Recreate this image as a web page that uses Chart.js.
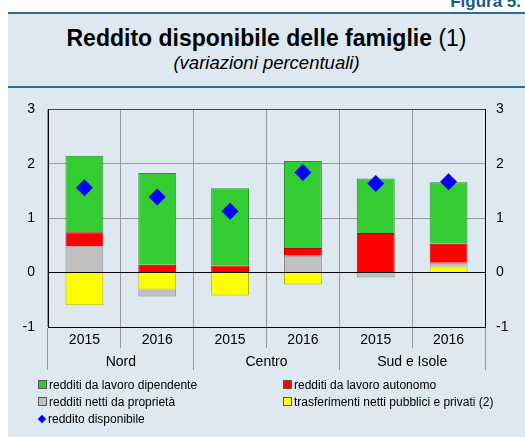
<!DOCTYPE html>
<html>
<head>
<meta charset="utf-8">
<script src="https://cdn.jsdelivr.net/npm/chart.js@4/dist/chart.umd.min.js"></script>
<style>
  body { margin: 0; width: 525px; height: 437px; background: #fff; position: relative; overflow: hidden;
         font-family: "Liberation Sans", Arial, sans-serif; }
  #fig { position: absolute; right: 4px; top: -8px; font-weight: bold; font-size: 17px; color: #1a5a8a; }
  #panel { position: absolute; left: 8px; top: 12px; width: 517px; height: 425px; background: #dde8f1;
           border-top: 2px solid #2d6e92; }
  #rule { position: absolute; left: 8px; top: 86px; width: 517px; height: 2px; background: #2d6e92; }
  #title { position: absolute; left: 8px; top: 25px; width: 517px; text-align: center; font-size: 23px; font-weight: bold; }
  #title span { font-weight: normal; }
  #sub { position: absolute; left: 8px; top: 52px; width: 517px; text-align: center; font-size: 18.5px; font-style: italic; }
  #wrap { position: absolute; left: 8px; top: 88px; width: 517px; height: 292px; }
  #legend { position: absolute; left: 38px; top: 378px; font-size: 12px; }
  .item { position: absolute; white-space: nowrap; line-height: 14px; }
  .sw { display: inline-block; width: 7px; height: 7px; border: 1px solid #555; margin-right: 2px; vertical-align: 0px; }
  .dia { display: inline-block; width: 6px; height: 6px; background: #0000ff; transform: rotate(45deg); margin: 0 3px 0 1px; vertical-align: 1px; }
</style>
</head>
<body>
<div id="fig">Figura 5.</div>
<div id="panel"></div>
<div id="rule"></div>
<div id="title">Reddito disponibile delle famiglie <span>(1)</span></div>
<div id="sub">(variazioni percentuali)</div>
<div id="wrap"><canvas id="c"></canvas></div>
<div id="legend"></div>
<script>
// === Data ===
const years = ['2015', '2016', '2015', '2016', '2015', '2016'];
const regions = ['Nord', 'Centro', 'Sud e Isole'];
const yTicks = [-1, 0, 1, 2, 3];

const dipendente = [1.41, 1.685, 1.42, 1.60, 1.00, 1.13];
const autonomo = [0.26, 0.145, 0.13, 0.14, 0.73, 0.35];
const proprieta = [0.48, -0.13, 0.0, 0.31, -0.09, 0.07];
const trasferimenti = [-0.60, -0.31, -0.42, -0.22, 0.0, 0.11];
const disponibile = [1.56, 1.39, 1.13, 1.84, 1.64, 1.67];

const FONT = '"Liberation Sans", Arial, sans-serif';

// stacking order: yellow nearest zero, then grey, red, green
const datasets = [
  { label: 'trasferimenti netti pubblici e privati (2)', data: trasferimenti, backgroundColor: '#ffff00', borderColor: '#b5b500' },
  { label: 'redditi netti da proprietà', data: proprieta, backgroundColor: '#c0c0c0', borderColor: '#8c8c8c' },
  { label: 'redditi da lavoro autonomo', data: autonomo, backgroundColor: '#ff0000', borderColor: '#b80000' },
  { label: 'redditi da lavoro dipendente', data: dipendente, backgroundColor: '#33cc33', borderColor: '#229922' },
].map(d => Object.assign(d, { type: 'bar', borderWidth: 1, barPercentage: 0.52, categoryPercentage: 1 }));

// diamonds on top of the bars (lower order = drawn last)
datasets.push({
  type: 'line', label: 'reddito disponibile', data: disponibile, showLine: false, order: -1,
  pointStyle: 'rectRot', pointRadius: 8.5, pointHoverRadius: 8.5,
  backgroundColor: '#0000ff', borderColor: '#0000ff', borderWidth: 0
});

function fixWidth(w) { return s => { s.width = w; }; }
function fixHeight(h) { return s => { s.height = h; }; }

new Chart(document.getElementById('c'), {
  data: { labels: years, datasets },
  options: {
    responsive: true, maintainAspectRatio: false, animation: false,
    layout: { padding: { top: 19 } },
    plugins: { legend: { display: false }, tooltip: { enabled: false } },
    scales: {
      x: {
        stacked: true, offset: true,
        grid: { offset: true, color: '#999', tickLength: 21, tickColor: '#999' },
        border: { color: '#000', z: 1 },
        ticks: { color: '#000', font: { family: FONT, size: 14 }, padding: -16.4, maxRotation: 0 },
        afterFit: fixHeight(21)
      },
      x2: {
        type: 'category', labels: regions, position: 'bottom', offset: true,
        grid: { offset: true, drawOnChartArea: false, color: '#999', tickLength: 22 },
        border: { display: false },
        ticks: { color: '#000', font: { family: FONT, size: 14 }, padding: -15.9, maxRotation: 0 },
        afterFit: fixHeight(32)
      },
      y: {
        stacked: true, min: -1, max: 3,
        afterBuildTicks: s => { s.ticks = yTicks.map(v => ({ value: v })); },
        grid: { drawTicks: false, color: c => c.tick.value === 0 ? '#000' : (c.tick.value === 3 ? '#444' : '#999') },
        border: { color: '#000', z: 1 },
        ticks: { color: '#000', font: { family: FONT, size: 14 }, padding: 13 },
        afterFit: fixWidth(40)
      },
      y2: {
        position: 'right', min: -1, max: 3,
        afterBuildTicks: s => { s.ticks = yTicks.map(v => ({ value: v })); },
        grid: { drawOnChartArea: false, drawTicks: false },
        border: { color: '#000', z: 1 },
        ticks: { color: '#000', font: { family: FONT, size: 14 }, padding: 11 },
        afterFit: fixWidth(40)
      }
    }
  }
});

// === Legend ===
const legendItems = [
  { text: 'redditi da lavoro dipendente', color: '#33cc33', x: 0, y: 0 },
  { text: 'redditi da lavoro autonomo', color: '#ff0000', x: 245, y: 0 },
  { text: 'redditi netti da proprietà', color: '#c0c0c0', x: 0, y: 17 },
  { text: 'trasferimenti netti pubblici e privati (2)', color: '#ffff00', x: 245, y: 17 },
  { text: 'reddito disponibile', diamond: true, x: 0, y: 34 },
];
const legend = document.getElementById('legend');
legendItems.forEach(it => {
  const el = document.createElement('div');
  el.className = 'item';
  el.style.left = it.x + 'px';
  el.style.top = it.y + 'px';
  const mark = document.createElement('span');
  if (it.diamond) mark.className = 'dia';
  else { mark.className = 'sw'; mark.style.background = it.color; }
  el.appendChild(mark);
  el.appendChild(document.createTextNode(it.text));
  legend.appendChild(el);
});
</script>
</body>
</html>
